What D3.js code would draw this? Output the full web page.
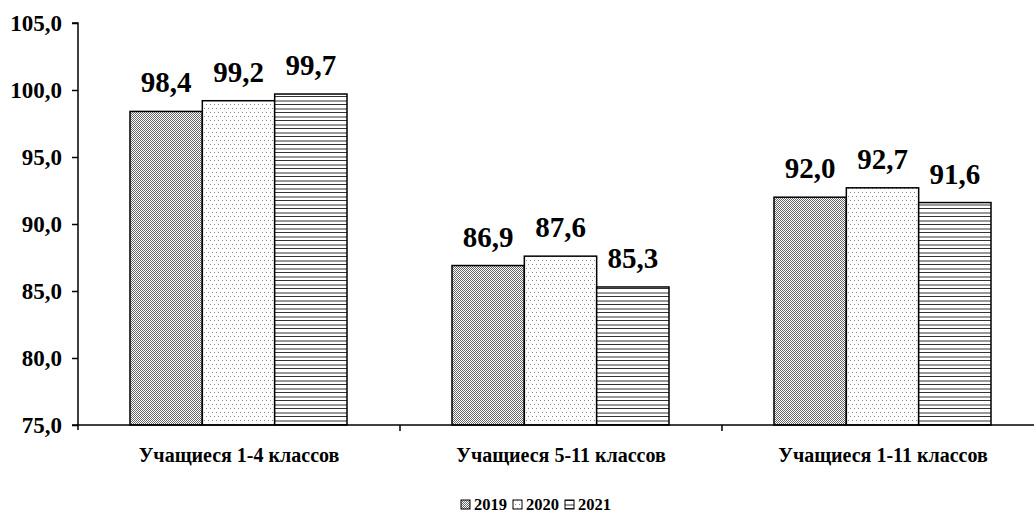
<!DOCTYPE html>
<html><head><meta charset="utf-8">
<script src="https://cdn.jsdelivr.net/npm/d3@7"></script>
<style>
body{margin:0;background:#fff;}
svg text{font-family:"Times New Roman","Liberation Serif",Times,"DejaVu Serif",serif !important;font-weight:bold;fill:#000;}
</style></head>
<body>
<svg id="chart" width="1034" height="519"></svg>
<script>
const categories = ["Учащиеся 1-4 классов", "Учащиеся 5-11 классов", "Учащиеся 1-11 классов"];
const seriesNames = ["2019", "2020", "2021"];
const values2019 = [98.4, 86.9, 92.0];
const values2020 = [99.2, 87.6, 92.7];
const values2021 = [99.7, 85.3, 91.6];
const yTicks = [75, 80, 85, 90, 95, 100, 105];

const seriesValues = [values2019, values2020, values2021];
const svg = d3.select("#chart");
const defs = svg.append("defs");

// patterns
const p0 = defs.append("pattern").attr("id","pat0").attr("patternUnits","userSpaceOnUse").attr("width",2).attr("height",2);
p0.append("rect").attr("width",2).attr("height",2).attr("fill","#fff");
p0.append("rect").attr("x",0).attr("y",0).attr("width",1).attr("height",1).attr("fill","#666");
p0.append("rect").attr("x",1).attr("y",1).attr("width",1).attr("height",1).attr("fill","#666");

const p1 = defs.append("pattern").attr("id","pat1").attr("patternUnits","userSpaceOnUse").attr("width",4).attr("height",8);
p1.append("rect").attr("width",4).attr("height",8).attr("fill","#fff");
p1.append("rect").attr("x",0).attr("y",0).attr("width",1).attr("height",1).attr("fill","#888");
p1.append("rect").attr("x",2).attr("y",4).attr("width",1).attr("height",1).attr("fill","#888");

const p2 = defs.append("pattern").attr("id","pat2").attr("patternUnits","userSpaceOnUse").attr("width",8).attr("height",8);
p2.append("rect").attr("width",8).attr("height",8).attr("fill","#fff");
p2.append("rect").attr("x",0).attr("y",0).attr("width",8).attr("height",1).attr("fill","#333");
p2.append("rect").attr("x",0).attr("y",4).attr("width",8).attr("height",2).attr("fill","#999");

const mLeft = 78, mRight = 1044, mTop = 23, mBottom = 425;

const y = d3.scaleLinear().domain([75,105]).range([mBottom, mTop]);
const x0 = d3.scaleBand().domain(categories).range([mLeft, mRight]).paddingInner(0).paddingOuter(0);
const x1 = d3.scaleBand().domain(seriesNames).range([52, 52 + 217]).padding(0);

// bars
categories.forEach((cat, ci) => {
  const g = svg.append("g").attr("transform", `translate(${x0(cat)},0)`);
  seriesNames.forEach((s, si) => {
    const v = seriesValues[si][ci];
    g.append("rect")
      .attr("x", x1(s)).attr("y", y(v))
      .attr("width", x1.bandwidth()).attr("height", y(75) - y(v))
      .attr("fill", `url(#pat${si})`)
      .attr("stroke", "#000").attr("stroke-width", 1.5);
    g.append("text")
      .attr("x", x1(s) + x1.bandwidth()/2).attr("y", y(v) - 19)
      .attr("text-anchor","middle").attr("font-size", 29)
      .text(d3.format(".1f")(v).replace(".", ","));
  });
});

// y axis
const yAxis = d3.axisLeft(y).tickValues(yTicks).tickSize(6).tickPadding(10)
  .tickFormat(d => d3.format(".1f")(d).replace(".", ","));
const ya = svg.append("g").attr("transform", `translate(${mLeft},0)`).call(yAxis);
ya.select(".domain").attr("stroke","#000").attr("stroke-width",1.5).attr("d", `M-6,${mTop}H0V${mBottom+5}`);
ya.selectAll(".tick line").attr("stroke","#000").attr("stroke-width",1.5);
ya.selectAll(".tick text").attr("font-size",23).attr("fill","#000");

// x axis
const xa = svg.append("g").attr("transform", `translate(0,${mBottom})`);
xa.append("line").attr("x1", mLeft - 6).attr("x2", mRight).attr("y1",0).attr("y2",0).attr("stroke","#000").attr("stroke-width",1.5);
categories.slice(1).forEach(cat => {
  xa.append("line").attr("x1", x0(cat)).attr("x2", x0(cat)).attr("y1",0).attr("y2",6).attr("stroke","#000").attr("stroke-width",1.5);
});
categories.forEach(cat => {
  xa.append("text").attr("x", x0(cat) + x0.bandwidth()/2).attr("y", 37)
    .attr("text-anchor","middle").attr("font-size",20).text(cat);
});

// legend
const legend = svg.append("g").attr("transform","translate(461,500)");
let lx = 0;
seriesNames.forEach((s, si) => {
  legend.append("rect").attr("x", lx).attr("y", 0).attr("width", 9).attr("height", 9)
    .attr("fill", `url(#pat${si})`).attr("stroke","#000").attr("stroke-width",1);
  const t = legend.append("text").attr("x", lx + 13).attr("y", 10).attr("font-size", 16.5).text(s);
  lx += 13 + t.node().getComputedTextLength() + 6;
});
</script>
</body></html>
